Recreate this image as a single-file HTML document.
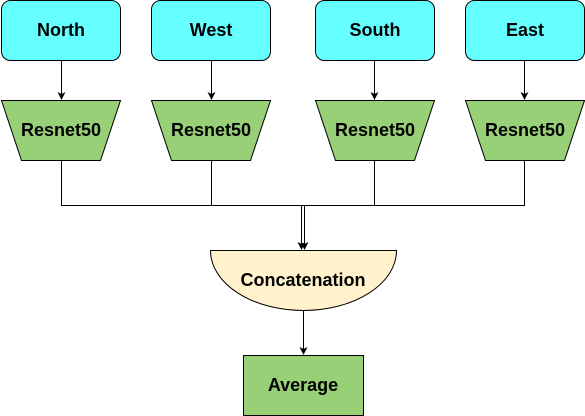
<!DOCTYPE html>
<html><head><style>html,body{margin:0;padding:0;background:#fff;width:585px;height:416px;overflow:hidden}</style></head>
<body>
<svg width="585" height="416" xmlns="http://www.w3.org/2000/svg" font-family="Liberation Sans, sans-serif" font-weight="bold" font-size="18">
<defs><marker id="a" markerWidth="8" markerHeight="8" refX="7" refY="4" orient="auto" markerUnits="userSpaceOnUse"><path d="M0,0 L8,4 L0,8 L2,4 z" fill="#000"/></marker></defs>
<g stroke="#000" stroke-width="1" fill="#66FFFF">
<rect x="1.5" y="0.5" width="119" height="60" rx="9"/>
<rect x="151.5" y="0.5" width="119" height="60" rx="9"/>
<rect x="315.5" y="0.5" width="119" height="60" rx="9"/>
<rect x="465.5" y="0.5" width="119" height="60" rx="9"/>
</g>
<g stroke="#000" fill="#97D077">
<path d="M1.5,100.5 H120.5 L100.5,160.5 H21.5 Z"/>
<path d="M151.5,100.5 H270.5 L250.5,160.5 H171.5 Z"/>
<path d="M315.5,100.5 H434.5 L414.5,160.5 H335.5 Z"/>
<path d="M465.5,100.5 H584.5 L564.5,160.5 H485.5 Z"/>
<rect x="243.5" y="355.5" width="120" height="60"/>
</g>
<path d="M210.5,250.5 H396.5 A93,60 0 0 1 210.5,250.5 Z" fill="#FFF2CC" stroke="#000"/>
<g stroke="#000" fill="none">
<line x1="61.5" y1="61" x2="61.5" y2="99" marker-end="url(#a)"/>
<line x1="211.5" y1="61" x2="211.5" y2="99" marker-end="url(#a)"/>
<line x1="374.5" y1="61" x2="374.5" y2="99" marker-end="url(#a)"/>
<line x1="524.5" y1="61" x2="524.5" y2="99" marker-end="url(#a)"/>
<path d="M61.5,161 V205.5 H524.5 V161 M211.5,161 V205.5 M374.5,161 V205.5"/>
<line x1="301.5" y1="206" x2="301.5" y2="249" marker-end="url(#a)"/>
<line x1="304.5" y1="206" x2="304.5" y2="249" marker-end="url(#a)"/>
<line x1="303.5" y1="311" x2="303.5" y2="354" marker-end="url(#a)"/>
</g>
<g text-anchor="middle" fill="#000">
<text x="61" y="36">North</text>
<text x="211" y="36">West</text>
<text x="375" y="36">South</text>
<text x="525" y="36">East</text>
<text x="61" y="136">Resnet50</text>
<text x="211" y="136">Resnet50</text>
<text x="375" y="136">Resnet50</text>
<text x="525" y="136">Resnet50</text>
<text x="303" y="286">Concatenation</text>
<text x="303" y="391">Average</text>
</g>
</svg>
</body></html>
